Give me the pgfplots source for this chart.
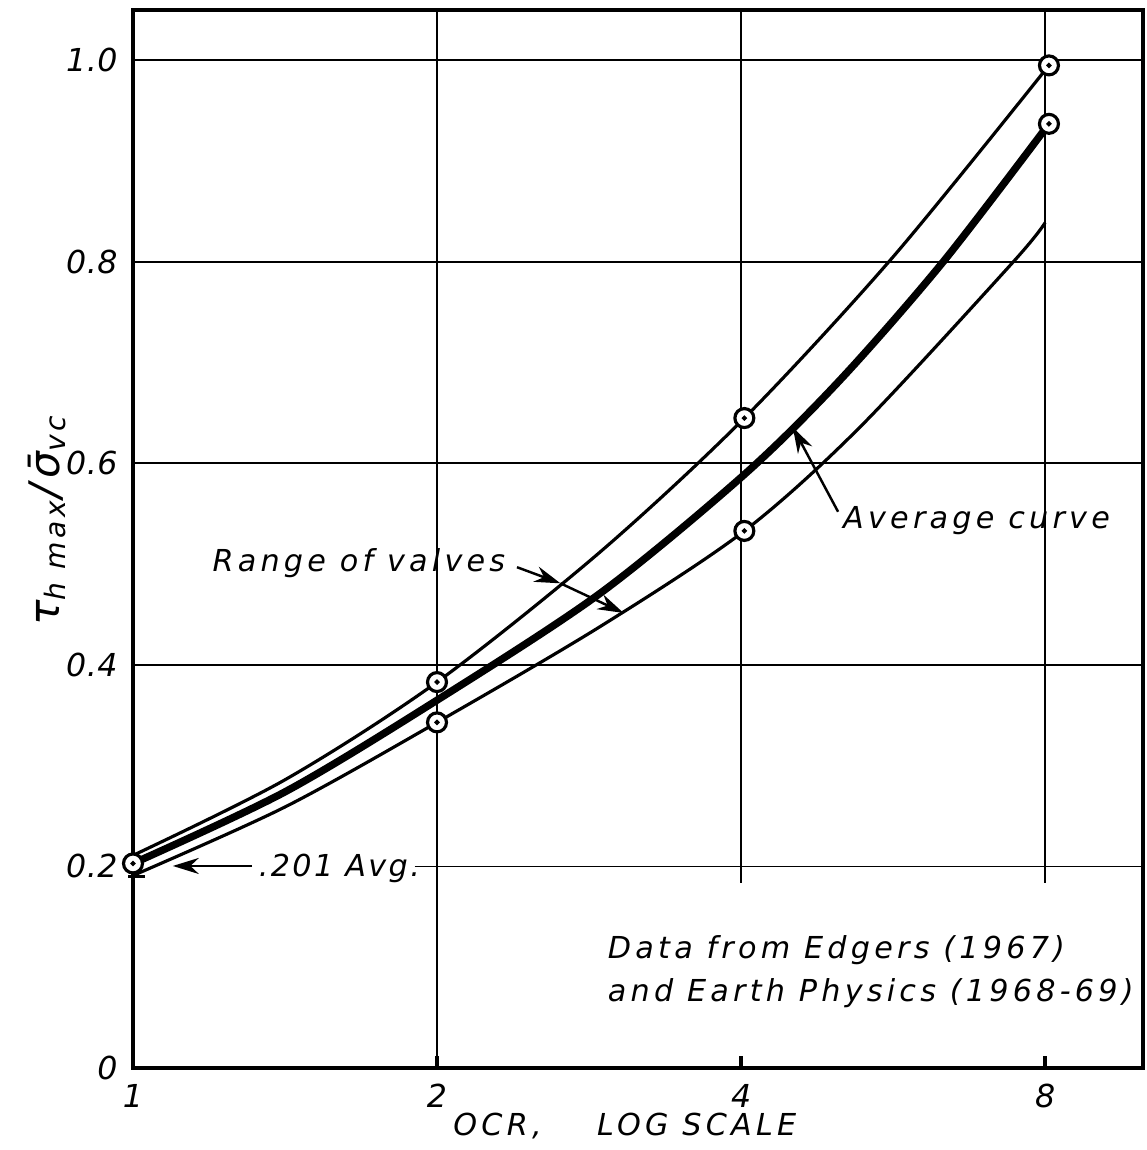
\documentclass[border=0pt]{standalone}
\usepackage{pgfplots}
\pgfplotsset{compat=1.18}
\usepackage{fontspec}
\setmainfont{DejaVu Sans}[LetterSpace=14]
\newfontfamily\numfont{DejaVu Sans}[LetterSpace=2]
\newfontfamily\avgfont{DejaVu Sans}[LetterSpace=8]
\usetikzlibrary{arrows.meta}
\newcommand\hand{\fontsize{8.6}{10}\selectfont\itshape}
\newcommand\handnum{\numfont\fontsize{9}{10}\selectfont\itshape}

\begin{document}
\begin{tikzpicture}
\useasboundingbox (-1.33,-0.82) rectangle (10.13,10.68);
\begin{axis}[
  at={(0,0)}, anchor=south west,
  scale only axis, width=10.1cm, height=10.58cm,
  xmode=log, log basis x=2,
  xmin=1, xmax=10, ymin=0, ymax=1.05,
  xtick={1,2,4,8}, xticklabels={1,2,4,8},
  ytick={0,0.2,0.4,0.6,0.8,1.0}, yticklabels={0,0.2,0.4,0.6,0.8,1.0},
  xtick pos=bottom, ytick pos=left, tick align=inside,
  xtick style={line width=1pt, black}, major tick length=1.2mm,
  ytick style={draw=none},
  axis line style={line width=1pt},
  tick label style={font=\handnum},
  xticklabel style={yshift=-0.4mm},
  yticklabel style={xshift=-0.3mm},
  clip=false,
]
% grid lines
\draw[line width=0.55pt] (axis cs:2,0) -- (axis cs:2,1.05);
\draw[line width=0.55pt] (axis cs:4,0.184) -- (axis cs:4,1.05);
\draw[line width=0.55pt] (axis cs:8,0.184) -- (axis cs:8,1.05);
\draw[line width=0.55pt] (axis cs:1.90,0.2) -- (axis cs:10,0.2);
\draw[line width=0.55pt] (axis cs:1,0.4) -- (axis cs:10,0.4);
\draw[line width=0.55pt] (axis cs:1,0.6) -- (axis cs:10,0.6);
\draw[line width=0.55pt] (axis cs:1,0.8) -- (axis cs:10,0.8);
\draw[line width=0.55pt] (axis cs:1,1.0) -- (axis cs:10,1.0);

% upper bound
\addplot[black, line width=0.9pt, smooth, tension=0.5] coordinates {
 (1,0.211) (1.414,0.286) (2,0.383) (2.90,0.512) (4.03,0.645) (5.657,0.805) (8.07,0.995)};
% average
\addplot[black, line width=2.1pt, smooth, tension=0.5] coordinates {
 (1,0.203) (1.414,0.274) (2,0.365) (2.90,0.471) (4.03,0.589) (5.015,0.683) (6.34,0.80) (8.07,0.937)};
% lower bound
\addplot[black, line width=0.9pt, smooth, tension=0.5] coordinates {
 (1,0.191) (1.414,0.259) (2,0.343) (2.90,0.438) (4.03,0.533) (5.245,0.636) (7.44,0.80) (8.0,0.839)};

% data circles
\addplot[only marks, mark=*, mark size=2.7pt,
  mark options={fill=white, draw=black, line width=0.9pt}] coordinates {
 (1,0.203) (2,0.383) (2,0.343) (4.03,0.645) (4.03,0.533) (8.07,0.995) (8.07,0.937)};
\addplot[only marks, mark=*, mark size=0.55pt, black] coordinates {
 (1,0.203) (2,0.383) (2,0.343) (4.03,0.645) (4.03,0.533) (8.07,0.995) (8.07,0.937)};

\draw[line width=1pt] (axis cs:0.989,0.19) -- (axis cs:1.028,0.19);

% annotations
\node[anchor=west, font=\hand, inner sep=0pt] at (axis cs:1.197,0.501) {Range of valves};
\draw[line width=0.7pt, -{Stealth[length=2.6mm, width=1.6mm]}] (axis cs:2.40,0.497) -- (axis cs:2.65,0.481);
\draw[line width=0.7pt, -{Stealth[length=2.6mm, width=1.6mm]}] (axis cs:2.65,0.481) -- (axis cs:3.06,0.4516);

\node[anchor=west, font=\hand, inner sep=0pt] at (axis cs:5.04,0.543) {Average curve};
\draw[line width=0.7pt, -{Stealth[length=2.6mm, width=1.6mm]}] (axis cs:4.99,0.552) -- (axis cs:4.5,0.636);

\node[anchor=west, font=\avgfont\fontsize{8.6}{10}\selectfont\itshape, inner sep=0pt] at (axis cs:1.33,0.1985) {.201 Avg.};
\draw[line width=0.7pt, -{Stealth[length=2.6mm, width=1.6mm]}] (axis cs:1.312,0.2005) -- (axis cs:1.095,0.2005);

\node[anchor=west, font=\hand, inner sep=0pt] at (axis cs:2.948,0.117) {Data from Edgers (1967)};
\node[anchor=west, font=\hand, inner sep=0pt] at (axis cs:2.948,0.0744) {and Earth Physics (1968-69)};

% axis labels
\node[font=\hand] at ([yshift=-5.8mm]rel axis cs:0.487,0) {OCR,\ \ \ \ LOG SCALE};
\node[font=\fontsize{12}{14}\selectfont\itshape, rotate=90] at ([xshift=-8.6mm]rel axis cs:0,0.518)
  {τ\textsubscript{h max}/σ̄\textsubscript{vc}};
\end{axis}
\end{tikzpicture}
\end{document}
